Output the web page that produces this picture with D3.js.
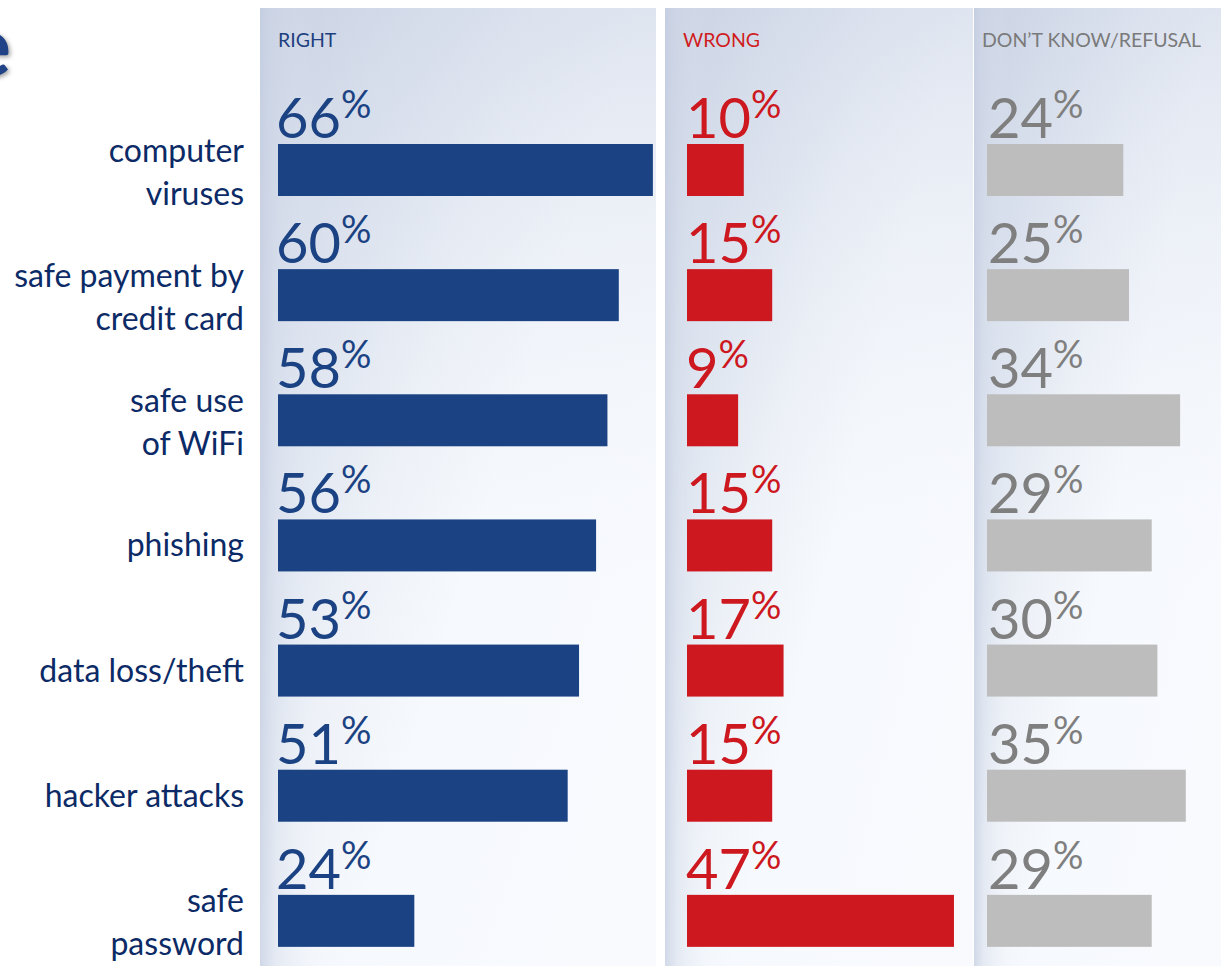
<!DOCTYPE html>
<html>
<head>
<meta charset="utf-8">
<script src="https://cdn.jsdelivr.net/npm/d3@7"></script>
<style>
  html, body { margin: 0; padding: 0; background: #ffffff; }
  svg { display: block; }
  text { font-family: Lato, "Open Sans", sans-serif; }
</style>
</head>
<body>
<svg id="chart" width="1221" height="966"></svg>
<script>
// Survey answers: share of respondents who knew what each term means
const categories = [
  ["computer", "viruses"],
  ["safe payment by", "credit card"],
  ["safe use", "of WiFi"],
  ["phishing"],
  ["data loss/theft"],
  ["hacker attacks"],
  ["safe", "password"]
];
const answerGroups = ["RIGHT", "WRONG", "DON\u2019T KNOW/REFUSAL"];
const rightValues = [66, 60, 58, 56, 53, 51, 24];
const wrongValues = [10, 15, 9, 15, 17, 15, 47];
const dontKnowValues = [24, 25, 34, 29, 30, 35, 29];

const W = 1221, H = 966;
const svg = d3.select("#chart");
const defs = svg.append("defs");

const panels = [
  { name: answerGroups[0], values: rightValues, x0: 260, x1: 656, barX: 278, textX: 276, headX: 278,
    bar: "#1b4282", text: "#1b4282", head: "#1f3f7f" },
  { name: answerGroups[1], values: wrongValues, x0: 665, x1: 973, barX: 687, textX: 686, headX: 683,
    bar: "#cc181e", text: "#cc181e", head: "#d01c20" },
  { name: answerGroups[2], values: dontKnowValues, x0: 974, x1: 1221, barX: 987, textX: 988, headX: 982,
    bar: "#bdbdbd", text: "#7f7f7f", head: "#7a7a7a" }
];

// Row layout shared by all three panels
const rowIds = categories.map((c, i) => i);
const y = d3.scaleBand().domain(rowIds).range([98, 974]);
const barH = 52, barOffset = 46;

// Same percentage scale in every panel
const x = d3.scaleLinear().domain([0, 100]).range([0, 568]);

// Soft bluish panel backgrounds
const diagGrad = defs.append("linearGradient").attr("id", "panelDiag")
  .attr("x1", 0).attr("y1", 0).attr("x2", 1).attr("y2", 0.75);
[[0, "#c9d2e3"], [0.22, "#dbe2ee"], [0.45, "#eef2f8"], [0.62, "#f6f9fd"], [1, "#f8fafe"]]
  .forEach(([o, c]) => diagGrad.append("stop").attr("offset", o).attr("stop-color", c));

const edgeGrad = defs.append("linearGradient").attr("id", "panelEdge")
  .attr("x1", 0).attr("y1", 0).attr("x2", 1).attr("y2", 0);
[[0, "#c3cce0", 0.7], [0.04, "#cfd7e7", 0.35], [0.14, "#e6ebf4", 0]]
  .forEach(([o, c, a]) => edgeGrad.append("stop").attr("offset", o).attr("stop-color", c).attr("stop-opacity", a));

const topGrad = defs.append("linearGradient").attr("id", "panelTop")
  .attr("x1", 0).attr("y1", 0).attr("x2", 0).attr("y2", 1);
[[0, "#ccd4e5", 0.55], [0.35, "#dde3ef", 0.2], [0.6, "#eef2f8", 0]]
  .forEach(([o, c, a]) => topGrad.append("stop").attr("offset", o).attr("stop-color", c).attr("stop-opacity", a));

const panelTop = 8;

panels.forEach(p => {
  const g = svg.append("g");
  const pw = p.x1 - p.x0, ph = H - panelTop;
  g.append("rect").attr("x", p.x0).attr("y", panelTop).attr("width", pw).attr("height", ph)
    .attr("fill", "url(#panelDiag)");
  g.append("rect").attr("x", p.x0).attr("y", panelTop).attr("width", pw).attr("height", ph)
    .attr("fill", "url(#panelTop)");
  g.append("rect").attr("x", p.x0).attr("y", panelTop).attr("width", pw).attr("height", ph)
    .attr("fill", "url(#panelEdge)");

  // Column heading
  g.append("text")
    .attr("x", p.headX).attr("y", 47)
    .attr("font-size", 19.5).attr("fill", p.head)
    .text(p.name);

  // Bars
  g.selectAll("rect.bar").data(p.values).join("rect")
    .attr("class", "bar")
    .attr("x", p.barX)
    .attr("y", (d, i) => y(i) + barOffset)
    .attr("width", d => x(d))
    .attr("height", barH)
    .attr("fill", p.bar);

  // Value labels with raised percent sign
  const lbl = g.selectAll("text.val").data(p.values).join("text")
    .attr("class", "val")
    .attr("x", p.textX)
    .attr("y", (d, i) => y(i) + barOffset - 6)
    .attr("fill", p.text);
  lbl.append("tspan").attr("font-size", 56).text(d => d);
  lbl.append("tspan").attr("font-size", 38).attr("dy", -20).text("%");
});

// Category labels, right aligned against the first panel
const catG = svg.append("g");
categories.forEach((lines, i) => {
  const cy = y(i) + barOffset + barH / 2;
  const lineH = 43;
  const t = catG.append("text")
    .attr("text-anchor", "end")
    .attr("font-size", 32)
    .attr("fill", "#0b2a66");
  lines.forEach((ln, j) => {
    t.append("tspan")
      .attr("x", 244)
      .attr("y", cy + (j - (lines.length - 1) / 2) * lineH + (lines.length > 1 ? 13 : 11))
      .text(ln);
  });
});

// Edge of the page title running in from the left
svg.append("text")
  .attr("x", 11).attr("y", 76)
  .attr("text-anchor", "end")
  .attr("font-size", 84).attr("font-weight", "bold")
  .attr("fill", "#1f4386")
  .style("filter", "drop-shadow(2px 2px 2px rgba(0,0,0,0.35))")
  .text("e");
</script>
</body>
</html>
